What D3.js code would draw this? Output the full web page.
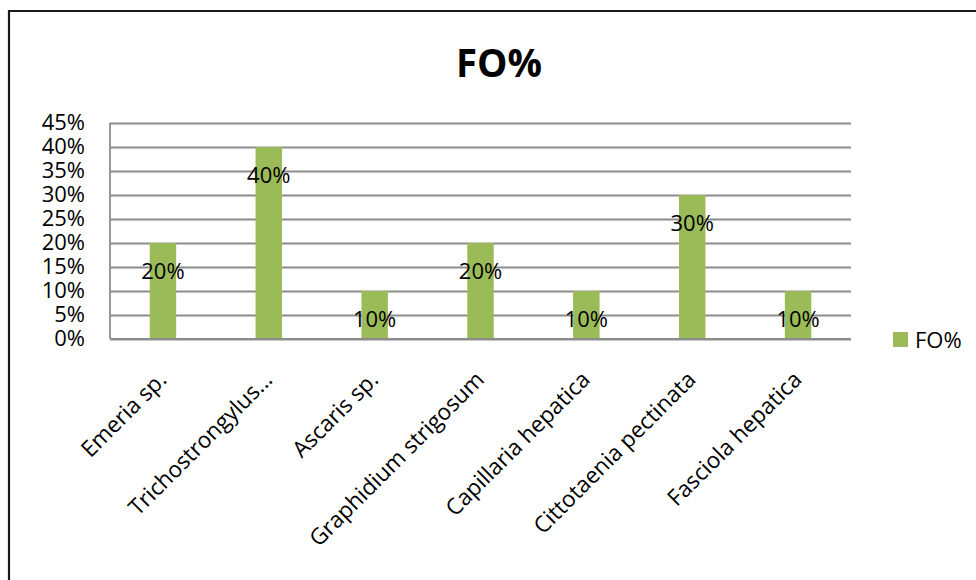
<!DOCTYPE html>
<html>
<head>
<meta charset="utf-8">
<script src="https://cdn.jsdelivr.net/npm/d3@7"></script>
<style>
  html, body { margin: 0; padding: 0; background: #fff; }
  svg { display: block; }
</style>
</head>
<body>
<svg id="chart" width="976" height="580"></svg>
<script>
const categories = ["Emeria sp.", "Trichostrongylus...", "Ascaris sp.", "Graphidium strigosum", "Capillaria hepatica", "Cittotaenia pectinata", "Fasciola hepatica"];
const values = [0.20, 0.40, 0.10, 0.20, 0.10, 0.30, 0.10];
const yTicks = [0, 0.05, 0.10, 0.15, 0.20, 0.25, 0.30, 0.35, 0.40, 0.45];
const seriesName = "FO%";
const chartTitle = "FO%";

const svg = d3.select("#chart");
const W = 976, H = 580;
const margin = { left: 110, right: 125, top: 123, bottom: 241 };
const plotW = W - margin.left - margin.right;
const plotH = H - margin.top - margin.bottom;
const barColor = "#9BBB59";
const gridColor = "#8c8c8c";
const font = "'Open Sans', 'Liberation Sans', sans-serif";

svg.append("rect").attr("width", W).attr("height", H).attr("fill", "#fff");
// outer frame
svg.append("path")
  .attr("d", `M9,${H + 5} L9,11 L${W + 5},11`)
  .attr("fill", "none").attr("stroke", "#1a1a1a").attr("stroke-width", 2.2);

const x = d3.scaleBand().domain(categories).range([margin.left, margin.left + plotW]).paddingInner(0.75).paddingOuter(0.375);
const y = d3.scaleLinear().domain([0, 0.45]).range([margin.top + plotH, margin.top]);

// title
svg.append("text")
  .attr("x", 499).attr("y", 77)
  .attr("text-anchor", "middle")
  .attr("font-family", font)
  .attr("font-weight", "bold")
  .attr("font-size", 40)
  .attr("textLength", 86)
  .attr("lengthAdjust", "spacingAndGlyphs")
  .attr("fill", "#000")
  .text(chartTitle);

// gridlines
const grid = svg.append("g")
  .attr("transform", `translate(${margin.left},0)`)
  .call(d3.axisLeft(y).tickValues(yTicks).tickSize(-plotW).tickFormat(""));
grid.selectAll("line").attr("stroke", gridColor).attr("stroke-width", 1.8);
grid.select(".domain").remove();
// left axis line
svg.append("line")
  .attr("x1", margin.left).attr("x2", margin.left)
  .attr("y1", y(0.45)).attr("y2", y(0))
  .attr("stroke", gridColor).attr("stroke-width", 1.8);

// y tick labels
const yAxis = svg.append("g")
  .attr("transform", `translate(${margin.left},0)`)
  .call(d3.axisLeft(y).tickValues(yTicks).tickSize(0).tickPadding(25).tickFormat(d3.format(".0%")));
yAxis.select(".domain").remove();
yAxis.selectAll("text")
  .attr("font-family", font).attr("font-size", 22).attr("fill", "#000")
  .attr("dy", "0.3em");

// bars
svg.append("g").selectAll("rect").data(values).join("rect")
  .attr("x", (d, i) => x(categories[i]))
  .attr("y", d => y(d))
  .attr("width", x.bandwidth())
  .attr("height", d => y(0) - y(d))
  .attr("fill", barColor);

// data labels
svg.append("g").selectAll("text").data(values).join("text")
  .attr("x", (d, i) => x(categories[i]) + x.bandwidth() / 2)
  .attr("y", d => y(d) + 36)
  .attr("text-anchor", "middle")
  .attr("font-family", font).attr("font-size", 22).attr("fill", "#000")
  .text(d => d3.format(".0%")(d));

// x axis line redraw on top
svg.append("line")
  .attr("x1", margin.left).attr("x2", margin.left + plotW)
  .attr("y1", y(0)).attr("y2", y(0))
  .attr("stroke", gridColor).attr("stroke-width", 1.8);

// category labels
svg.append("g").selectAll("text").data(categories).join("text")
  .attr("transform", d => `translate(${x(d) + x.bandwidth() / 2 + 5},381) rotate(-45)`)
  .attr("text-anchor", "end")
  .attr("font-family", font).attr("font-size", 22.5).attr("fill", "#000")
  .text(d => d);

// legend
const lg = svg.append("g");
lg.append("rect").attr("x", 893).attr("y", 332).attr("width", 15).attr("height", 15).attr("fill", barColor);
lg.append("text").attr("x", 915).attr("y", 348)
  .attr("font-family", font).attr("font-size", 22).attr("fill", "#000")
  .text(seriesName);
</script>
</body>
</html>
